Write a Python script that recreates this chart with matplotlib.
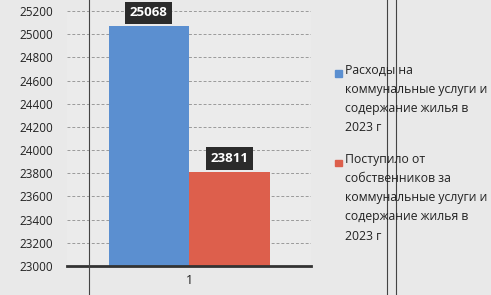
import matplotlib.pyplot as plt
import numpy as np

categories = ["1"]
series_names = ["Расходы на\nкоммунальные услуги и\nсодержание жилья в\n2023 г",
                "Поступило от\nсобственников за\nкоммунальные услуги и\nсодержание жилья в\n2023 г"]
values = [25068, 23811]
colors = ["#5b8fd0", "#dd5f4c"]
yticks = np.arange(23000, 25201, 200)

plt.rcParams['font.family'] = ['Open Sans', 'DejaVu Sans']

fig = plt.figure(figsize=(4.91, 2.95), dpi=100)
fig.patch.set_facecolor("#e9e9e9")
ax = fig.add_axes([0.1365, 0.098, 0.497, 0.865])
ax.set_facecolor("#ebebeb")

w = 0.33
offsets = [-w / 2, w / 2]
for name, val, col, off in zip(series_names, values, colors, offsets):
    ax.bar(off, val - 23000, bottom=23000, width=w, color=col, label=name)
    ax.text(off, val + 60, str(val), ha="center", va="bottom", color="white",
            fontsize=9.5, fontweight="bold", clip_on=False,
            bbox=dict(boxstyle="square,pad=0.35", fc="#2b2b2b", ec="none"))

ax.set_xlim(-0.5, 0.5)
ax.set_ylim(23000, 25200)
ax.set_yticks(yticks)
ax.set_yticklabels([str(t) for t in yticks], fontsize=8.5, color="#222222")
ax.set_xticks([0])
ax.set_xticklabels(categories, fontsize=9, color="#222222")
ax.tick_params(axis="y", length=0, pad=10)
ax.tick_params(axis="x", length=0, pad=6)
ax.yaxis.grid(True, color="#9a9a9a", linestyle=(0, (3, 2)), linewidth=0.7)
ax.set_axisbelow(True)
for s in ["top", "right", "left"]:
    ax.spines[s].set_visible(False)
ax.spines["bottom"].set_linewidth(2)
ax.spines["bottom"].set_color("#333333")

# legend, drawn by hand so the marker sits at the first line
leg_tops = [0.785, 0.482]
for name, col, yt in zip(series_names, colors, leg_tops):
    fig.text(0.703, yt, name, ha="left", va="top", fontsize=8.8,
             color="#222222", linespacing=1.62)
    fig.add_artist(plt.Rectangle((0.683, yt - 0.045), 0.013, 0.022,
                                 transform=fig.transFigure, color=col))

# scan lines of the page
for x in [0.181, 0.788, 0.806]:
    fig.add_artist(plt.Line2D([x, x], [0, 1], color="#444444", lw=0.8))

fig.savefig("out.png", dpi=100, facecolor=fig.get_facecolor())
